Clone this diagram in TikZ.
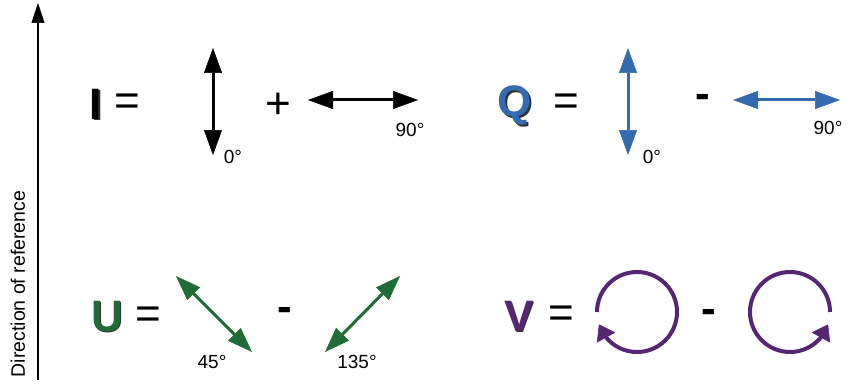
\documentclass[tikz,border=0pt]{standalone}
\usepackage{fontspec}
\setmainfont{Liberation Sans}
\usetikzlibrary{arrows.meta,bending}
\definecolor{qblue}{RGB}{52,106,176}
\definecolor{ugreen}{RGB}{32,108,54}
\definecolor{vpurple}{RGB}{86,38,116}
% letter with a dark drop shadow
\newcommand\shadowed[2]{\rlap{\kern1.6pt\raisebox{-1.6pt}{\textcolor{black!80}{#2}}}\textcolor{#1}{#2}}
\begin{document}
\begin{tikzpicture}[x=1pt,y=-1pt,
  letter/.style={font=\fontsize{44}{44}\selectfont\bfseries, inner sep=0pt, anchor=base},
  sign/.style={font=\fontsize{44}{44}\selectfont, inner sep=0pt},
  minus/.style={font=\fontsize{44}{44}\selectfont\bfseries, inner sep=0pt},
  deg/.style={font=\fontsize{19}{19}\selectfont, inner sep=0pt},
  pol/.style={line width=3pt, {Triangle[width=18pt,length=25pt,line width=0.5pt]}-{Triangle[width=18pt,length=25pt,line width=0.5pt]}},
  circ/.style={line width=4pt, vpurple, -{Triangle[width=21pt,length=15pt,line width=0.5pt,flex]}}]
\useasboundingbox (0,0) rectangle (850,385);
% reference direction
\coordinate (r0) at (38,380);
\coordinate (r1) at (38,3);
\draw[line width=2pt, -{Triangle[width=13pt,length=20pt,line width=0.5pt]}] (r0) -- (r1);
\node[deg, font=\fontsize{19.5}{19.5}\selectfont, rotate=90] (ref) at (18,284) {Direction of reference};
% I
\node[letter] (I) at (96,119) {\shadowed{black}{I}};
\node[sign] (Ieq) at (127,105) {=};
\coordinate (i1) at (213,48);
\coordinate (i2) at (213,155);
\draw[pol] (i1) -- (i2);
\node[deg] (i0) at (233,157) {0°};
\node[sign] (Iplus) at (278,106) {+};
\coordinate (i3) at (308,100);
\coordinate (i4) at (418,100);
\draw[pol] (i3) -- (i4);
\node[deg] (i90) at (410,130) {90°};
% Q
\node[letter] (Q) at (515,117) {\shadowed{qblue}{Q}};
\node[sign] (Qeq) at (566,105) {=};
\coordinate (q1) at (628,48);
\coordinate (q2) at (628,155);
\draw[pol, qblue] (q1) -- (q2);
\node[deg] (q0) at (652,157) {0°};
\node[minus] (Qminus) at (703,101) {-};
\coordinate (q3) at (733,100);
\coordinate (q4) at (840,100);
\draw[pol, qblue] (q3) -- (q4);
\node[deg] (q90) at (828,128) {90°};
% U
\node[letter] (U) at (107,331) {\shadowed{ugreen}{U}};
\node[sign] (Ueq) at (148,318) {=};
\coordinate (u1) at (176,276);
\coordinate (u2) at (252,352);
\draw[pol, ugreen] (u1) -- (u2);
\node[deg] (u45) at (212,362) {45°};
\node[minus] (Uminus) at (285,314) {-};
\coordinate (u3) at (400,276);
\coordinate (u4) at (325,352);
\draw[pol, ugreen] (u3) -- (u4);
\node[deg] (u135) at (357,362) {135°};
% V
\node[letter] (V) at (519,331) {\shadowed{vpurple}{V}};
\node[sign] (Veq) at (561,317) {=};
\coordinate (v1) at (597,312);
\draw[circ] (v1) arc[start angle=180, end angle=522, radius=40];
\node[minus] (Vminus) at (709,316) {-};
\coordinate (v2) at (830,312);
\draw[circ] (v2) arc[start angle=0, end angle=-342, radius=40];
\end{tikzpicture}
\end{document}
